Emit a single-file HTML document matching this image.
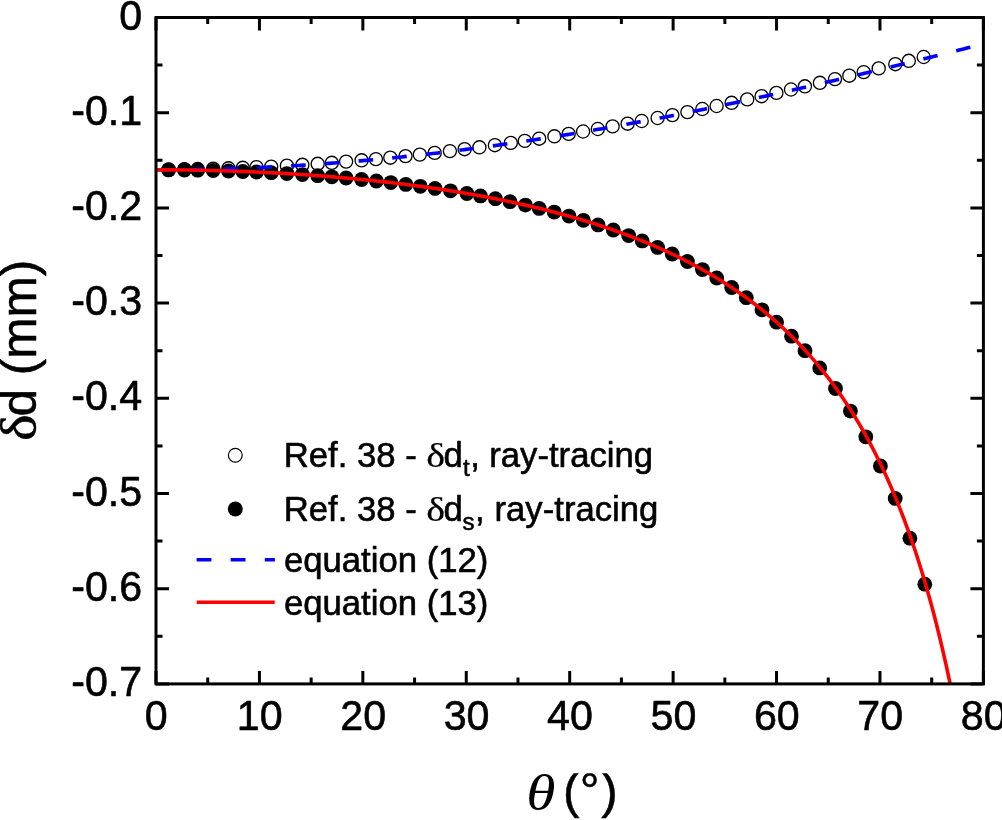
<!DOCTYPE html>
<html lang="en"><head><meta charset="utf-8"><title>plot</title>
<style>html,body{margin:0;padding:0;background:#fff}body{width:1002px;height:820px;overflow:hidden}svg{display:block}</style>
</head><body>
<svg width="1002" height="820" viewBox="0 0 1002 820">
<rect width="1002" height="820" fill="#fff"/>
<g fill="#fff" stroke="#000" stroke-width="1.3"><circle cx="168.6" cy="169.4" r="6.55"/><circle cx="184.4" cy="169.2" r="6.55"/><circle cx="197.7" cy="169.0" r="6.55"/><circle cx="213.2" cy="168.7" r="6.55"/><circle cx="228.5" cy="168.3" r="6.55"/><circle cx="242.8" cy="167.8" r="6.55"/><circle cx="256.5" cy="167.2" r="6.55"/><circle cx="271.2" cy="166.6" r="6.55"/><circle cx="286.9" cy="165.7" r="6.55"/><circle cx="302.4" cy="164.8" r="6.55"/><circle cx="317.7" cy="163.8" r="6.55"/><circle cx="331.8" cy="162.8" r="6.55"/><circle cx="346.1" cy="161.6" r="6.55"/><circle cx="361.6" cy="160.3" r="6.55"/><circle cx="375.9" cy="159.1" r="6.55"/><circle cx="390.3" cy="157.7" r="6.55"/><circle cx="405.5" cy="156.1" r="6.55"/><circle cx="419.8" cy="154.6" r="6.55"/><circle cx="434.7" cy="152.9" r="6.55"/><circle cx="449.9" cy="151.1" r="6.55"/><circle cx="464.6" cy="149.2" r="6.55"/><circle cx="479.4" cy="147.3" r="6.55"/><circle cx="494.9" cy="145.2" r="6.55"/><circle cx="510.8" cy="142.9" r="6.55"/><circle cx="524.8" cy="140.9" r="6.55"/><circle cx="539.2" cy="138.7" r="6.55"/><circle cx="554.4" cy="136.3" r="6.55"/><circle cx="568.7" cy="133.9" r="6.55"/><circle cx="583.1" cy="131.5" r="6.55"/><circle cx="597.8" cy="129.0" r="6.55"/><circle cx="612.6" cy="126.4" r="6.55"/><circle cx="627.6" cy="123.7" r="6.55"/><circle cx="641.7" cy="121.0" r="6.55"/><circle cx="657.6" cy="118.0" r="6.55"/><circle cx="672.4" cy="115.1" r="6.55"/><circle cx="687.4" cy="112.1" r="6.55"/><circle cx="702.3" cy="109.0" r="6.55"/><circle cx="716.6" cy="106.0" r="6.55"/><circle cx="731.6" cy="102.8" r="6.55"/><circle cx="747.2" cy="99.4" r="6.55"/><circle cx="761.6" cy="96.2" r="6.55"/><circle cx="776.4" cy="92.9" r="6.55"/><circle cx="791.0" cy="89.5" r="6.55"/><circle cx="804.9" cy="86.3" r="6.55"/><circle cx="819.9" cy="82.8" r="6.55"/><circle cx="835.0" cy="79.1" r="6.55"/><circle cx="849.3" cy="75.7" r="6.55"/><circle cx="863.7" cy="72.1" r="6.55"/><circle cx="878.7" cy="68.4" r="6.55"/><circle cx="895.3" cy="64.2" r="6.55"/><circle cx="908.8" cy="60.8" r="6.55"/><circle cx="923.7" cy="57.0" r="6.55"/></g>
<g fill="#000"><circle cx="168.6" cy="169.9" r="7.4"/><circle cx="184.4" cy="170.0" r="7.4"/><circle cx="197.7" cy="170.2" r="7.4"/><circle cx="213.2" cy="170.5" r="7.4"/><circle cx="228.5" cy="171.0" r="7.4"/><circle cx="242.8" cy="171.5" r="7.4"/><circle cx="256.5" cy="172.0" r="7.4"/><circle cx="271.2" cy="172.7" r="7.4"/><circle cx="286.9" cy="173.6" r="7.4"/><circle cx="302.4" cy="174.6" r="7.4"/><circle cx="317.7" cy="175.7" r="7.4"/><circle cx="331.8" cy="176.8" r="7.4"/><circle cx="346.1" cy="178.0" r="7.4"/><circle cx="361.6" cy="179.5" r="7.4"/><circle cx="376.4" cy="181.0" r="7.4"/><circle cx="390.8" cy="182.6" r="7.4"/><circle cx="405.8" cy="184.4" r="7.4"/><circle cx="420.3" cy="186.3" r="7.4"/><circle cx="435.0" cy="188.4" r="7.4"/><circle cx="450.5" cy="190.8" r="7.4"/><circle cx="466.9" cy="193.5" r="7.4"/><circle cx="480.5" cy="195.9" r="7.4"/><circle cx="495.4" cy="198.7" r="7.4"/><circle cx="510.0" cy="201.7" r="7.4"/><circle cx="525.4" cy="205.1" r="7.4"/><circle cx="539.2" cy="208.4" r="7.4"/><circle cx="554.2" cy="212.1" r="7.4"/><circle cx="569.0" cy="216.1" r="7.4"/><circle cx="583.4" cy="220.3" r="7.4"/><circle cx="598.1" cy="224.9" r="7.4"/><circle cx="613.3" cy="230.0" r="7.4"/><circle cx="628.6" cy="235.6" r="7.4"/><circle cx="642.2" cy="240.9" r="7.4"/><circle cx="657.6" cy="247.4" r="7.4"/><circle cx="672.2" cy="254.0" r="7.4"/><circle cx="687.4" cy="261.5" r="7.4"/><circle cx="702.4" cy="269.6" r="7.4"/><circle cx="716.7" cy="278.0" r="7.4"/><circle cx="731.7" cy="287.5" r="7.4"/><circle cx="746.3" cy="297.7" r="7.4"/><circle cx="762.0" cy="309.8" r="7.4"/><circle cx="776.6" cy="322.2" r="7.4"/><circle cx="791.5" cy="336.2" r="7.4"/><circle cx="805.0" cy="350.7" r="7.4"/><circle cx="819.7" cy="367.9" r="7.4"/><circle cx="835.5" cy="388.5" r="7.4"/><circle cx="850.4" cy="411.1" r="7.4"/><circle cx="865.8" cy="436.8" r="7.4"/><circle cx="880.4" cy="466.0" r="7.4"/><circle cx="895.2" cy="498.4" r="7.4"/><circle cx="909.9" cy="538.2" r="7.4"/><circle cx="924.8" cy="584.2" r="7.4"/></g>
<polyline fill="none" stroke="#0000ff" stroke-width="3.6" stroke-dasharray="14.6 19.2" points="156.00,169.82 158.59,169.82 161.17,169.81 163.76,169.81 166.34,169.80 168.93,169.78 171.51,169.77 174.10,169.75 176.69,169.73 179.27,169.70 181.86,169.68 184.44,169.64 187.03,169.61 189.61,169.58 192.20,169.54 194.78,169.49 197.37,169.45 199.96,169.40 202.54,169.35 205.13,169.30 207.71,169.24 210.30,169.18 212.88,169.12 215.47,169.05 218.06,168.99 220.64,168.91 223.23,168.84 225.81,168.76 228.40,168.68 230.98,168.60 233.57,168.52 236.15,168.43 238.74,168.34 241.33,168.24 243.91,168.15 246.50,168.05 249.08,167.94 251.67,167.84 254.25,167.73 256.84,167.62 259.43,167.51 262.01,167.39 264.60,167.27 267.18,167.15 269.77,167.02 272.35,166.89 274.94,166.76 277.52,166.63 280.11,166.49 282.70,166.35 285.28,166.21 287.87,166.06 290.45,165.92 293.04,165.77 295.62,165.61 298.21,165.45 300.79,165.30 303.38,165.13 305.97,164.97 308.55,164.80 311.14,164.63 313.72,164.46 316.31,164.28 318.89,164.10 321.48,163.92 324.07,163.73 326.65,163.55 329.24,163.36 331.82,163.16 334.41,162.97 336.99,162.77 339.58,162.57 342.16,162.36 344.75,162.16 347.34,161.95 349.92,161.74 352.51,161.52 355.09,161.30 357.68,161.08 360.26,160.86 362.85,160.63 365.44,160.41 368.02,160.17 370.61,159.94 373.19,159.70 375.78,159.46 378.36,159.22 380.95,158.98 383.53,158.73 386.12,158.48 388.71,158.23 391.29,157.97 393.88,157.71 396.46,157.45 399.05,157.19 401.63,156.92 404.22,156.65 406.81,156.38 409.39,156.11 411.98,155.83 414.56,155.55 417.15,155.27 419.73,154.98 422.32,154.69 424.90,154.40 427.49,154.11 430.08,153.82 432.66,153.52 435.25,153.22 437.83,152.92 440.42,152.61 443.00,152.30 445.59,151.99 448.18,151.68 450.76,151.36 453.35,151.04 455.93,150.72 458.52,150.40 461.10,150.07 463.69,149.74 466.27,149.41 468.86,149.08 471.45,148.74 474.03,148.40 476.62,148.06 479.20,147.72 481.79,147.37 484.37,147.03 486.96,146.67 489.55,146.32 492.13,145.97 494.72,145.61 497.30,145.25 499.89,144.88 502.47,144.52 505.06,144.15 507.64,143.78 510.23,143.41 512.82,143.03 515.40,142.65 517.99,142.27 520.57,141.89 523.16,141.51 525.74,141.12 528.33,140.73 530.92,140.34 533.50,139.94 536.09,139.55 538.67,139.15 541.26,138.75 543.84,138.34 546.43,137.94 549.01,137.53 551.60,137.12 554.19,136.71 556.77,136.29 559.36,135.87 561.94,135.46 564.53,135.03 567.11,134.61 569.70,134.18 572.29,133.76 574.87,133.33 577.46,132.89 580.04,132.46 582.63,132.02 585.21,131.58 587.80,131.14 590.38,130.70 592.97,130.25 595.56,129.80 598.14,129.35 600.73,128.90 603.31,128.45 605.90,127.99 608.48,127.53 611.07,127.07 613.66,126.61 616.24,126.14 618.83,125.68 621.41,125.21 624.00,124.74 626.58,124.26 629.17,123.79 631.75,123.31 634.34,122.83 636.93,122.35 639.51,121.87 642.10,121.38 644.68,120.89 647.27,120.41 649.85,119.91 652.44,119.42 655.03,118.93 657.61,118.43 660.20,117.93 662.78,117.43 665.37,116.93 667.95,116.42 670.54,115.92 673.12,115.41 675.71,114.90 678.30,114.39 680.88,113.87 683.47,113.36 686.05,112.84 688.64,112.32 691.22,111.80 693.81,111.28 696.40,110.75 698.98,110.23 701.57,109.70 704.15,109.17 706.74,108.64 709.32,108.10 711.91,107.57 714.50,107.03 717.08,106.49 719.67,105.95 722.25,105.41 724.84,104.87 727.42,104.32 730.01,103.77 732.59,103.23 735.18,102.68 737.77,102.12 740.35,101.57 742.94,101.02 745.52,100.46 748.11,99.90 750.69,99.34 753.28,98.78 755.87,98.22 758.45,97.65 761.04,97.09 763.62,96.52 766.21,95.95 768.79,95.38 771.38,94.81 773.96,94.23 776.55,93.66 779.14,93.08 781.72,92.51 784.31,91.93 786.89,91.35 789.48,90.76 792.06,90.18 794.65,89.60 797.24,89.01 799.82,88.42 802.41,87.83 804.99,87.24 807.58,86.65 810.16,86.06 812.75,85.46 815.33,84.87 817.92,84.27 820.51,83.67 823.09,83.08 825.68,82.47 828.26,81.87 830.85,81.27 833.43,80.67 836.02,80.06 838.60,79.45 841.19,78.85 843.78,78.24 846.36,77.63 848.95,77.02 851.53,76.40 854.12,75.79 856.70,75.18 859.29,74.56 861.88,73.94 864.46,73.33 867.05,72.71 869.63,72.09 872.22,71.47 874.80,70.84 877.39,70.22 879.97,69.60 882.56,68.97 885.15,68.35 887.73,67.72 890.32,67.09 892.90,66.46 895.49,65.83 898.07,65.20 900.66,64.57 903.25,63.94 905.83,63.30 908.42,62.67 911.00,62.03 913.59,61.40 916.17,60.76 918.76,60.12 921.34,59.49 923.93,58.85 926.52,58.21 929.10,57.56 931.69,56.92 934.27,56.28 936.86,55.64 939.44,54.99 942.03,54.35 944.62,53.70 947.20,53.06 949.79,52.41 952.37,51.76 954.96,51.12 957.54,50.47 960.13,49.82 962.71,49.17 965.30,48.52 967.89,47.87 970.47,47.22 973.06,46.56 975.64,45.91 978.23,45.26 980.81,44.60 983.40,43.95"/>
<polyline fill="none" stroke="#ff0000" stroke-width="3.6" stroke-linejoin="round" points="156.00,169.82 157.99,169.82 159.97,169.82 161.96,169.83 163.94,169.83 165.93,169.84 167.91,169.85 169.90,169.86 171.88,169.87 173.87,169.89 175.85,169.91 177.84,169.92 179.83,169.94 181.81,169.96 183.80,169.99 185.78,170.01 187.77,170.04 189.75,170.07 191.74,170.10 193.72,170.13 195.71,170.16 197.69,170.20 199.68,170.23 201.66,170.27 203.65,170.31 205.64,170.36 207.62,170.40 209.61,170.45 211.59,170.49 213.58,170.54 215.56,170.59 217.55,170.65 219.53,170.70 221.52,170.76 223.50,170.81 225.49,170.87 227.48,170.93 229.46,171.00 231.45,171.06 233.43,171.13 235.42,171.20 237.40,171.27 239.39,171.34 241.37,171.41 243.36,171.49 245.34,171.57 247.33,171.65 249.31,171.73 251.30,171.81 253.29,171.90 255.27,171.98 257.26,172.07 259.24,172.16 261.23,172.25 263.21,172.35 265.20,172.44 267.18,172.54 269.17,172.64 271.15,172.74 273.14,172.85 275.13,172.95 277.11,173.06 279.10,173.17 281.08,173.28 283.07,173.39 285.05,173.50 287.04,173.62 289.02,173.74 291.01,173.86 292.99,173.98 294.98,174.11 296.97,174.23 298.95,174.36 300.94,174.49 302.92,174.62 304.91,174.76 306.89,174.90 308.88,175.03 310.86,175.17 312.85,175.32 314.83,175.46 316.82,175.61 318.80,175.76 320.79,175.91 322.78,176.06 324.76,176.21 326.75,176.37 328.73,176.53 330.72,176.69 332.70,176.85 334.69,177.02 336.67,177.18 338.66,177.35 340.64,177.53 342.63,177.70 344.62,177.88 346.60,178.05 348.59,178.23 350.57,178.42 352.56,178.60 354.54,178.79 356.53,178.98 358.51,179.17 360.50,179.36 362.48,179.56 364.47,179.76 366.45,179.96 368.44,180.16 370.43,180.37 372.41,180.57 374.40,180.78 376.38,181.00 378.37,181.21 380.35,181.43 382.34,181.65 384.32,181.87 386.31,182.10 388.29,182.32 390.28,182.55 392.27,182.78 394.25,183.02 396.24,183.26 398.22,183.50 400.21,183.74 402.19,183.98 404.18,184.23 406.16,184.48 408.15,184.73 410.13,184.99 412.12,185.25 414.11,185.51 416.09,185.77 418.08,186.04 420.06,186.30 422.05,186.58 424.03,186.85 426.02,187.13 428.00,187.41 429.99,187.69 431.97,187.98 433.96,188.26 435.94,188.56 437.93,188.85 439.92,189.15 441.90,189.45 443.89,189.75 445.87,190.06 447.86,190.37 449.84,190.68 451.83,190.99 453.81,191.31 455.80,191.63 457.78,191.96 459.77,192.29 461.76,192.62 463.74,192.95 465.73,193.29 467.71,193.63 469.70,193.98 471.68,194.32 473.67,194.67 475.65,195.03 477.64,195.39 479.62,195.75 481.61,196.11 483.60,196.48 485.58,196.85 487.57,197.23 489.55,197.61 491.54,197.99 493.52,198.38 495.51,198.77 497.49,199.16 499.48,199.56 501.46,199.96 503.45,200.36 505.43,200.77 507.42,201.18 509.41,201.60 511.39,202.02 513.38,202.45 515.36,202.88 517.35,203.31 519.33,203.74 521.32,204.19 523.30,204.63 525.29,205.08 527.27,205.53 529.26,205.99 531.25,206.46 533.23,206.92 535.22,207.39 537.20,207.87 539.19,208.35 541.17,208.84 543.16,209.32 545.14,209.82 547.13,210.32 549.11,210.82 551.10,211.33 553.08,211.84 555.07,212.36 557.06,212.89 559.04,213.41 561.03,213.95 563.01,214.49 565.00,215.03 566.98,215.58 568.97,216.13 570.95,216.69 572.94,217.26 574.92,217.83 576.91,218.41 578.90,218.99 580.88,219.57 582.87,220.17 584.85,220.77 586.84,221.37 588.82,221.98 590.81,222.60 592.79,223.22 594.78,223.85 596.76,224.49 598.75,225.13 600.74,225.77 602.72,226.43 604.71,227.09 606.69,227.76 608.68,228.43 610.66,229.11 612.65,229.80 614.63,230.49 616.62,231.19 618.60,231.90 620.59,232.61 622.57,233.34 624.56,234.07 626.55,234.80 628.53,235.55 630.52,236.30 632.50,237.06 634.49,237.83 636.47,238.60 638.46,239.39 640.44,240.18 642.43,240.98 644.41,241.79 646.40,242.60 648.39,243.43 650.37,244.26 652.36,245.10 654.34,245.95 656.33,246.81 658.31,247.68 660.30,248.56 662.28,249.45 664.27,250.35 666.25,251.25 668.24,252.17 670.22,253.10 672.21,254.03 674.20,254.98 676.18,255.94 678.17,256.90 680.15,257.88 682.14,258.87 684.12,259.87 686.11,260.88 688.09,261.90 690.08,262.94 692.06,263.98 694.05,265.04 696.04,266.11 698.02,267.19 700.01,268.28 701.99,269.38 703.98,270.50 705.96,271.63 707.95,272.78 709.93,273.93 711.92,275.10 713.90,276.29 715.89,277.49 717.88,278.70 719.86,279.92 721.85,281.16 723.83,282.42 725.82,283.69 727.80,284.98 729.79,286.28 731.77,287.59 733.76,288.93 735.74,290.28 737.73,291.64 739.71,293.03 741.70,294.43 743.69,295.84 745.67,297.28 747.66,298.73 749.64,300.20 751.63,301.69 753.61,303.20 755.60,304.73 757.58,306.28 759.57,307.85 761.55,309.44 763.54,311.05 765.53,312.68 767.51,314.33 769.50,316.01 771.48,317.70 773.47,319.42 775.45,321.17 777.44,322.93 779.42,324.72 781.41,326.54 783.39,328.38 785.38,330.25 787.36,332.14 789.35,334.06 791.34,336.00 793.32,337.98 795.31,339.98 797.29,342.01 799.28,344.07 801.26,346.16 803.25,348.28 805.23,350.43 807.22,352.62 809.20,354.83 811.19,357.08 813.18,359.37 815.16,361.69 817.15,364.04 819.13,366.43 821.12,368.86 823.10,371.33 825.09,373.83 827.07,376.38 829.06,378.96 831.04,381.59 833.03,384.26 835.02,386.97 837.00,389.73 838.99,392.53 840.97,395.39 842.96,398.28 844.94,401.23 846.93,404.23 848.91,407.28 850.90,410.38 852.88,413.54 854.87,416.75 856.85,420.02 858.84,423.35 860.83,426.74 862.81,430.19 864.80,433.70 866.78,437.28 868.77,440.93 870.75,444.64 872.74,448.43 874.72,452.29 876.71,456.22 878.69,460.23 880.68,464.31 882.67,468.48 884.65,472.74 886.64,477.08 888.62,481.50 890.61,486.02 892.59,490.64 894.58,495.35 896.56,500.16 898.55,505.07 900.53,510.10 902.52,515.23 904.50,520.47 906.49,525.84 908.48,531.32 910.46,536.93 912.45,542.67 914.43,548.54 916.42,554.55 918.40,560.71 920.39,567.02 922.37,573.48 924.36,580.10 926.34,586.88 928.33,593.84 930.32,600.98 932.30,608.30 934.29,615.82 936.27,623.53 938.26,631.46 940.24,639.60 942.23,647.97 944.21,656.57 946.20,665.42 948.18,674.53 950.17,683.90"/>
<path d="M156.00 683.90v-13.0M156.00 17.50v13.0M207.71 683.90v-6.5M207.71 17.50v6.5M259.43 683.90v-13.0M259.43 17.50v13.0M311.14 683.90v-6.5M311.14 17.50v6.5M362.85 683.90v-13.0M362.85 17.50v13.0M414.56 683.90v-6.5M414.56 17.50v6.5M466.27 683.90v-13.0M466.27 17.50v13.0M517.99 683.90v-6.5M517.99 17.50v6.5M569.70 683.90v-13.0M569.70 17.50v13.0M621.41 683.90v-6.5M621.41 17.50v6.5M673.12 683.90v-13.0M673.12 17.50v13.0M724.84 683.90v-6.5M724.84 17.50v6.5M776.55 683.90v-13.0M776.55 17.50v13.0M828.26 683.90v-6.5M828.26 17.50v6.5M879.97 683.90v-13.0M879.97 17.50v13.0M931.69 683.90v-6.5M931.69 17.50v6.5M983.40 683.90v-13.0M983.40 17.50v13.0M156.00 17.50h13.0M983.40 17.50h-13.0M156.00 65.10h6.5M983.40 65.10h-6.5M156.00 112.70h13.0M983.40 112.70h-13.0M156.00 160.30h6.5M983.40 160.30h-6.5M156.00 207.90h13.0M983.40 207.90h-13.0M156.00 255.50h6.5M983.40 255.50h-6.5M156.00 303.10h13.0M983.40 303.10h-13.0M156.00 350.70h6.5M983.40 350.70h-6.5M156.00 398.30h13.0M983.40 398.30h-13.0M156.00 445.90h6.5M983.40 445.90h-6.5M156.00 493.50h13.0M983.40 493.50h-13.0M156.00 541.10h6.5M983.40 541.10h-6.5M156.00 588.70h13.0M983.40 588.70h-13.0M156.00 636.30h6.5M983.40 636.30h-6.5M156.00 683.90h13.0M983.40 683.90h-13.0" stroke="#000" stroke-width="3" fill="none"/>
<rect x="156.00" y="17.50" width="827.40" height="666.40" fill="none" stroke="#000" stroke-width="3"/>
<g fill="#000" stroke="#000" stroke-width="0.6" stroke-linejoin="round"><text transform="translate(156.30 730.00) scale(1 1.02)" font-family="'Liberation Sans', Arial, sans-serif" font-size="41.2" text-anchor="middle">0</text><text transform="translate(259.73 730.00) scale(1 1.02)" font-family="'Liberation Sans', Arial, sans-serif" font-size="41.2" text-anchor="middle">10</text><text transform="translate(363.15 730.00) scale(1 1.02)" font-family="'Liberation Sans', Arial, sans-serif" font-size="41.2" text-anchor="middle">20</text><text transform="translate(466.57 730.00) scale(1 1.02)" font-family="'Liberation Sans', Arial, sans-serif" font-size="41.2" text-anchor="middle">30</text><text transform="translate(570.00 730.00) scale(1 1.02)" font-family="'Liberation Sans', Arial, sans-serif" font-size="41.2" text-anchor="middle">40</text><text transform="translate(673.42 730.00) scale(1 1.02)" font-family="'Liberation Sans', Arial, sans-serif" font-size="41.2" text-anchor="middle">50</text><text transform="translate(776.85 730.00) scale(1 1.02)" font-family="'Liberation Sans', Arial, sans-serif" font-size="41.2" text-anchor="middle">60</text><text transform="translate(880.27 730.00) scale(1 1.02)" font-family="'Liberation Sans', Arial, sans-serif" font-size="41.2" text-anchor="middle">70</text><text transform="translate(983.70 730.00) scale(1 1.02)" font-family="'Liberation Sans', Arial, sans-serif" font-size="41.2" text-anchor="middle">80</text><text transform="translate(142.20 29.65) scale(1 1.02)" font-family="'Liberation Sans', Arial, sans-serif" font-size="41.2" text-anchor="end">0</text><text transform="translate(142.20 124.85) scale(1 1.02)" font-family="'Liberation Sans', Arial, sans-serif" font-size="41.2" text-anchor="end">-0.1</text><text transform="translate(142.20 220.05) scale(1 1.02)" font-family="'Liberation Sans', Arial, sans-serif" font-size="41.2" text-anchor="end">-0.2</text><text transform="translate(142.20 315.25) scale(1 1.02)" font-family="'Liberation Sans', Arial, sans-serif" font-size="41.2" text-anchor="end">-0.3</text><text transform="translate(142.20 410.45) scale(1 1.02)" font-family="'Liberation Sans', Arial, sans-serif" font-size="41.2" text-anchor="end">-0.4</text><text transform="translate(142.20 505.65) scale(1 1.02)" font-family="'Liberation Sans', Arial, sans-serif" font-size="41.2" text-anchor="end">-0.5</text><text transform="translate(142.20 600.85) scale(1 1.02)" font-family="'Liberation Sans', Arial, sans-serif" font-size="41.2" text-anchor="end">-0.6</text><text transform="translate(142.20 696.05) scale(1 1.02)" font-family="'Liberation Sans', Arial, sans-serif" font-size="41.2" text-anchor="end">-0.7</text></g>
<g fill="#000" stroke="#000" stroke-width="0.5" stroke-linejoin="round"><text transform="translate(36.10 440.80) rotate(-90) scale(1.125 1.03)" font-family="'Liberation Serif', 'DejaVu Serif', serif" font-size="49.5" text-anchor="start">δ</text><text transform="translate(36.10 416.50) rotate(-90)" font-family="'Liberation Sans', Arial, sans-serif" font-size="49.5" text-anchor="start">d (mm)</text></g>
<clipPath id="cx"><rect x="0" y="773.2" width="1002" height="47"/></clipPath>
<g fill="#000" clip-path="url(#cx)"><text transform="translate(526.30 809.50) scale(1.2 1.035)" font-family="'Liberation Serif', 'DejaVu Serif', serif" font-size="49.5" text-anchor="start" font-style="italic">θ</text><g stroke="#000" stroke-width="0.5"><text transform="translate(563.00 808.10)" font-family="'Liberation Sans', Arial, sans-serif" font-size="49.5" text-anchor="start">(</text><text transform="translate(579.80 808.10)" font-family="'Liberation Sans', Arial, sans-serif" font-size="49.5" text-anchor="start">°</text><text transform="translate(601.20 808.10)" font-family="'Liberation Sans', Arial, sans-serif" font-size="49.5" text-anchor="start">)</text></g></g>
<circle cx="235.3" cy="455.2" r="6.9" fill="#fff" stroke="#000" stroke-width="1.2"/><circle cx="235.3" cy="509" r="7.5" fill="#000"/><path d="M196.6 559.8H274.9" stroke="#0000ff" stroke-width="3.6" stroke-dasharray="14.8 19.3" fill="none"/><path d="M196.7 602.3H274.7" stroke="#ff0000" stroke-width="3.6" fill="none"/><g fill="#000" stroke="#000" stroke-width="0.6" stroke-linejoin="round"><text transform="translate(283.70 467.30)" font-family="'Liberation Sans', Arial, sans-serif" font-size="34.7" text-anchor="start">Ref. 38 -</text><text transform="translate(426.30 467.30) scale(1.15 0.95)" font-family="'Liberation Serif', 'DejaVu Serif', serif" font-size="34.7" text-anchor="start" stroke-width="0.25">δ</text><text transform="translate(443.60 467.30)" font-family="'Liberation Sans', Arial, sans-serif" font-size="34.7" text-anchor="start">d</text><text transform="translate(463.00 476.10)" font-family="'Liberation Sans', Arial, sans-serif" font-size="24" text-anchor="start">t</text><text transform="translate(470.30 467.30)" font-family="'Liberation Sans', Arial, sans-serif" font-size="34.7" text-anchor="start">,</text><text transform="translate(489.20 467.30)" font-family="'Liberation Sans', Arial, sans-serif" font-size="34.7" text-anchor="start">ray-tracing</text><text transform="translate(283.70 521.20)" font-family="'Liberation Sans', Arial, sans-serif" font-size="34.7" text-anchor="start">Ref. 38 -</text><text transform="translate(426.30 521.20) scale(1.15 0.95)" font-family="'Liberation Serif', 'DejaVu Serif', serif" font-size="34.7" text-anchor="start" stroke-width="0.25">δ</text><text transform="translate(443.60 521.20)" font-family="'Liberation Sans', Arial, sans-serif" font-size="34.7" text-anchor="start">d</text><text transform="translate(462.60 530.00)" font-family="'Liberation Sans', Arial, sans-serif" font-size="24" text-anchor="start">s</text><text transform="translate(475.00 521.20)" font-family="'Liberation Sans', Arial, sans-serif" font-size="34.7" text-anchor="start">,</text><text transform="translate(494.50 521.20)" font-family="'Liberation Sans', Arial, sans-serif" font-size="34.7" text-anchor="start">ray-tracing</text><text transform="translate(283.90 571.50)" font-family="'Liberation Sans', Arial, sans-serif" font-size="34.7" text-anchor="start">equation (12)</text><text transform="translate(283.90 614.50)" font-family="'Liberation Sans', Arial, sans-serif" font-size="34.7" text-anchor="start">equation (13)</text></g>
</svg>
</body></html>
